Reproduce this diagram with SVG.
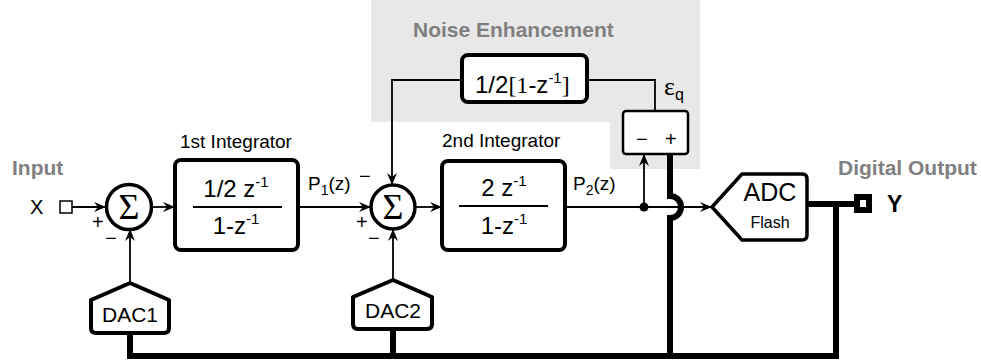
<svg xmlns="http://www.w3.org/2000/svg" width="981" height="362" viewBox="0 0 981 362">
<style>
text{font-family:"Liberation Sans",Arial,sans-serif;fill:#000}
.lbl{font-size:19px}
.glbl{font-size:21px;font-weight:bold;fill:#808080}
.frac{font-size:24px}
.sup{font-size:15px}
.sig{font-size:20px}
.thin{fill:none;stroke:#000;stroke-width:1.8}
.bus{fill:none;stroke:#000;stroke-width:6}
.blk{fill:#fff;stroke:#000;stroke-width:4}
.sum{fill:#fff;stroke:#000;stroke-width:3.5}
.serif{font-family:"Liberation Serif","Times New Roman",serif}
</style>
<defs>
<marker id="arr" viewBox="0 0 12 10" refX="12" refY="5" markerWidth="12" markerHeight="10" markerUnits="userSpaceOnUse" orient="auto">
<path d="M0,0 L12,5 L0,10 L4,5 Z" fill="#000"/>
</marker>
</defs>
<path id="noise-bg" d="M371,0 H700 V169 H610 V122 H371 Z" fill="#e8e8e8"/>
<text class="glbl" x="413" y="37">Noise Enhancement</text>
<text class="glbl" x="12" y="175">Input</text>
<text class="glbl" x="838" y="175">Digital Output</text>

<g id="connectors">
<path class="thin" d="M72,207 H106" marker-end="url(#arr)"/>
<path class="thin" d="M152,207 H175" marker-end="url(#arr)"/>
<path class="thin" d="M298,207 H371" marker-end="url(#arr)"/>
<path class="thin" d="M415,207 H442" marker-end="url(#arr)"/>
<path class="thin" d="M565,207 H712" marker-end="url(#arr)"/>
<path class="thin" d="M130,283 V229" marker-end="url(#arr)"/>
<path class="thin" d="M393,280 V229" marker-end="url(#arr)"/>
<path class="thin" d="M644,207 V154" marker-end="url(#arr)"/>
<path class="thin" d="M462,80 H392 V185" marker-end="url(#arr)"/>
<path class="thin" d="M587,80 H655 V111"/>
<circle cx="644" cy="207" r="4.5" fill="#000"/>
<path class="bus" d="M670,154 V196 A11,11 0 0 1 670,218 V356"/>
<path class="bus" d="M130,333 V356 H836 V204"/>
<path class="bus" d="M393,329 V356"/>
<path class="bus" d="M807,204 H856"/>
</g>

<g id="input">
<text class="sig" x="30" y="214">X</text>
<rect x="60" y="201" width="12" height="12" fill="#fff" stroke="#000" stroke-width="1.5"/>
</g>

<g id="sum1">
<circle class="sum" cx="129" cy="207" r="22.5"/>
<text class="serif" x="129" y="219" font-size="36" text-anchor="middle">Σ</text>
<text class="sig" x="92" y="229">+</text>
<text class="sig" x="105" y="245">−</text>
</g>

<g id="integrator1">
<text class="lbl" x="180" y="148">1st Integrator</text>
<rect class="blk" x="175" y="160" width="123" height="90" rx="6"/>
<text class="frac" x="236" y="197" text-anchor="middle">1/2 z<tspan class="sup" dy="-10">-1</tspan></text>
<line x1="193" y1="207" x2="282" y2="207" stroke="#000" stroke-width="2"/>
<text class="frac" x="236" y="234" text-anchor="middle">1-z<tspan class="sup" dy="-10">-1</tspan></text>
<text class="lbl" x="308" y="190">P<tspan font-size="14" dy="5">1</tspan><tspan dy="-5">(z)</tspan></text>
</g>

<g id="sum2">
<circle class="sum" cx="393" cy="207" r="22"/>
<text class="serif" x="393" y="219" font-size="36" text-anchor="middle">Σ</text>
<text class="sig" x="359" y="183">−</text>
<text class="sig" x="356" y="229">+</text>
<text class="sig" x="368" y="245">−</text>
</g>

<g id="integrator2">
<text class="lbl" x="442" y="147">2nd Integrator</text>
<rect class="blk" x="442" y="161" width="123" height="89" rx="6"/>
<text class="frac" x="504" y="196" text-anchor="middle">2 z<tspan class="sup" dy="-10">-1</tspan></text>
<line x1="459" y1="206" x2="548" y2="206" stroke="#000" stroke-width="2"/>
<text class="frac" x="504" y="234" text-anchor="middle">1-z<tspan class="sup" dy="-10">-1</tspan></text>
<text class="lbl" x="573" y="190">P<tspan font-size="14" dy="5">2</tspan><tspan dy="-5">(z)</tspan></text>
</g>

<g id="noise-filter">
<rect class="blk" x="462" y="55" width="125" height="47" rx="6"/>
<text x="475" y="93" font-size="24">1/2<tspan class="serif">[1</tspan>-z<tspan class="sup" dy="-10">-1</tspan><tspan class="serif" dy="10">]</tspan></text>
<text class="serif" x="664" y="95" font-size="26">ε<tspan font-family="Liberation Sans" font-size="16" dy="5">q</tspan></text>
</g>

<g id="subtractor">
<rect x="623" y="111" width="65" height="43" rx="3" fill="#fff" stroke="#000" stroke-width="2.5"/>
<text class="sig" x="636" y="146">−</text>
<text class="sig" x="665" y="146">+</text>
</g>

<g id="adc">
<path d="M712,207 L742,174 H802 Q807,174 807,179 V235 Q807,240 802,240 H742 Z" fill="#fff" stroke="#000" stroke-width="3.5" stroke-linejoin="round"/>
<text x="770" y="201" font-size="25" text-anchor="middle">ADC</text>
<text x="770" y="228" font-size="16" text-anchor="middle">Flash</text>
</g>

<g id="dac1">
<path d="M130,283 L169,300 V328 Q169,333 164,333 H96 Q91,333 91,328 V300 Z" fill="#fff" stroke="#000" stroke-width="4" stroke-linejoin="round"/>
<text x="130" y="322" font-size="21" text-anchor="middle">DAC1</text>
</g>

<g id="dac2">
<path d="M393,280 L432,297 V324 Q432,329 427,329 H358 Q353,329 353,324 V297 Z" fill="#fff" stroke="#000" stroke-width="4" stroke-linejoin="round"/>
<text x="393" y="318" font-size="21" text-anchor="middle">DAC2</text>
</g>

<g id="output">
<rect x="857" y="197" width="12" height="13" fill="#fff" stroke="#000" stroke-width="6"/>
<text x="887" y="212" font-size="23" font-weight="bold">Y</text>
</g>
</svg>
